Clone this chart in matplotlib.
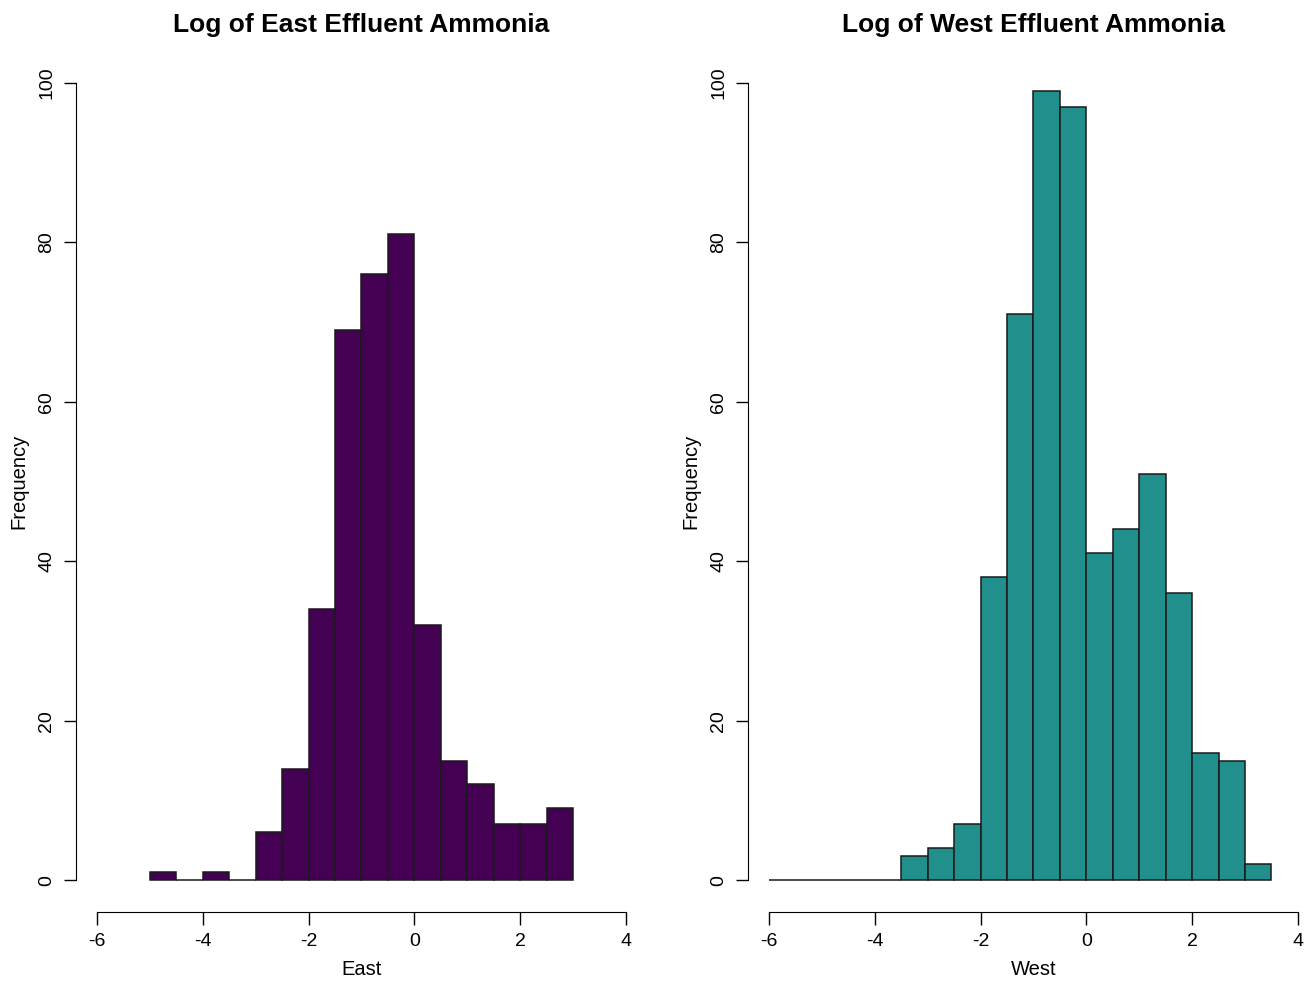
import numpy as np
import matplotlib
matplotlib.use('Agg')
from matplotlib import pyplot as plt

plt.rcParams['font.family'] = ['Liberation Sans', 'DejaVu Sans']
plt.rcParams['axes.unicode_minus'] = False

# bin edges (step 0.5) and counts
east_edges = np.arange(-5.0, 3.01, 0.5)
east_counts = [1, 0, 1, 0, 6, 14, 34, 69, 76, 81, 32, 15, 12, 7, 7, 9]

west_edges = np.arange(-6.0, 3.51, 0.5)
west_counts = [0, 0, 0, 0, 0, 3, 4, 7, 38, 71, 99, 97, 41, 44, 51, 36, 16, 15, 2]

panels = [
    ('Log of East Effluent Ammonia', 'East', east_edges, east_counts, '#440154'),
    ('Log of West Effluent Ammonia', 'West', west_edges, west_counts, '#21908C'),
]
lefts = [76 / 1307, 748 / 1307]

fig = plt.figure(figsize=(13.07, 9.82), dpi=100)
for (title, xlab, edges, counts, col), left in zip(panels, lefts):
    ax = fig.add_axes([left, 70 / 982, 571 / 1307, 861 / 982])
    ax.bar(edges[:-1], counts, width=0.5, align='edge', color=col,
           edgecolor='#1a1a1a', linewidth=1.1)
    ax.set_xlim(-6.4, 4.4)
    ax.set_ylim(-4, 104)
    for s in ['top', 'right']:
        ax.spines[s].set_visible(False)
    ax.spines['left'].set_bounds(0, 100)
    ax.spines['bottom'].set_bounds(-6, 4)
    ax.set_xticks(range(-6, 5, 2))
    ax.set_yticks(range(0, 101, 20))
    ax.tick_params(length=9, width=1, labelsize=14, pad=6)
    for lab in ax.get_yticklabels():
        lab.set_rotation(90)
        lab.set_va('center')
    ax.set_xlabel(xlab, fontsize=14.5, labelpad=7)
    ax.set_ylabel('Frequency', fontsize=14.5, labelpad=7)
    ax.set_title(title, fontsize=19, fontweight='bold', pad=14)

fig.savefig('out.png', dpi=100)
